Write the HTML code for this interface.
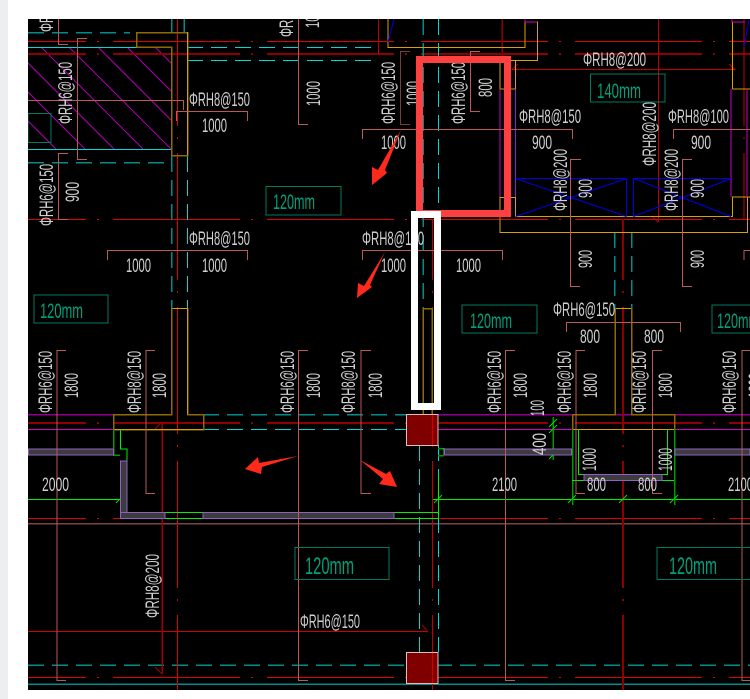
<!DOCTYPE html>
<html><head><meta charset="utf-8"><style>
html,body{margin:0;padding:0;background:#fff;width:750px;height:699px;overflow:hidden}
svg{display:block}
text{font-family:"Liberation Sans",sans-serif;font-size:19px;fill:#cfcfcf;font-weight:400}
text.g{fill:#00a07c;font-size:21px}
.r{stroke:#e00000;stroke-dasharray:127 11 2 14;fill:none}
.dr{stroke:#8c0000;stroke-width:2;stroke-dasharray:127 11 2 14;fill:none}
.sa{stroke:#b85a5a;fill:none}
.sd{stroke:#7c3a3a;fill:none}
.td{stroke:#008c8c;stroke-width:1.5;stroke-dasharray:16 8;fill:none}
.cd{stroke:#00d8d8;stroke-dasharray:16 8;fill:none}
.y{stroke:#d8a000;fill:none}
.yd{stroke:#8f6a00;stroke-width:1.5;fill:none}
.m{stroke:#d000c8;fill:none}
.md{stroke:#900090;stroke-width:1.5;fill:none}
.gr{stroke:#00f000;fill:none}
.gd{stroke:#009a00;stroke-width:1.5;fill:none}
.b{stroke:#0000e0;fill:none}
.bx{stroke:#007a60;stroke-width:1.3;fill:none}
.h{fill:#3c3c3c;stroke:#9060c8;stroke-width:1}
</style></head><body>
<svg width="750" height="699" viewBox="0 0 750 699" xmlns="http://www.w3.org/2000/svg">
<rect width="750" height="699" fill="#fff"/>
<rect x="0" y="0" width="8" height="699" fill="#edeef0"/>
<rect x="28" y="19" width="722" height="671" fill="#000"/>
<defs>
<clipPath id="c"><rect x="28" y="19" width="722" height="671"/></clipPath>
<clipPath id="hc"><rect x="28" y="47" width="143" height="102"/></clipPath>
<clipPath id="low"><rect x="28" y="219" width="722" height="471"/></clipPath>
</defs>
<g clip-path="url(#c)" shape-rendering="crispEdges">
<!-- hatch -->
<g clip-path="url(#hc)" stroke="#b000b0" shape-rendering="auto">
<line x1="155" y1="47" x2="257" y2="149"/><line x1="127" y1="47" x2="229" y2="149"/><line x1="98" y1="47" x2="200" y2="149"/><line x1="69" y1="47" x2="171" y2="149"/><line x1="41" y1="47" x2="143" y2="149"/><line x1="12" y1="47" x2="114" y2="149"/><line x1="-17" y1="47" x2="85" y2="149"/><line x1="-46" y1="47" x2="56" y2="149"/>
</g>
<rect x="28" y="113.5" width="23" height="29" class="bx"/>

<!-- horizontal grid -->
<line x1="28" y1="32.5" x2="130" y2="32.5" class="td"/>
<line x1="-41" y1="41.5" x2="750" y2="41.5" class="r"/>
<line x1="-41" y1="54" x2="750" y2="54" class="dr"/>
<line x1="28" y1="47.5" x2="171" y2="47.5" stroke="#00d8d8"/>
<line x1="187" y1="47.5" x2="375" y2="47.5" class="cd"/>
<line x1="187" y1="60.5" x2="375" y2="60.5" class="cd"/>
<line x1="28" y1="149.5" x2="171" y2="149.5" stroke="#00d8d8"/>
<line x1="28" y1="162.5" x2="171" y2="162.5" class="td"/>
<line x1="-41" y1="219.5" x2="750" y2="219.5" class="r"/>
<line x1="-41" y1="423" x2="750" y2="423" class="dr"/>
<line x1="-41" y1="518.5" x2="750" y2="518.5" class="r"/>
<line x1="-41" y1="677.5" x2="750" y2="677.5" class="r"/>
<line x1="28" y1="523.5" x2="750" y2="523.5" stroke="#7a4444" stroke-width="1.5"/>
<line x1="28" y1="631.5" x2="428" y2="631.5" stroke="#d00000"/>
<path d="M428 631.5L422 625" stroke="#a00000" fill="none" shape-rendering="auto"/>
<line x1="28" y1="665" x2="750" y2="665" class="td"/>
<line x1="28" y1="684" x2="750" y2="684" stroke="#008c8c" stroke-width="1.5"/>
<line x1="28" y1="414.5" x2="113" y2="414.5" class="md"/>
<line x1="438" y1="414.5" x2="750" y2="414.5" class="md"/>
<line x1="28" y1="429.5" x2="113" y2="429.5" class="m"/>
<line x1="438" y1="429.5" x2="750" y2="429.5" class="m"/>
<line x1="203" y1="414.5" x2="406" y2="414.5" class="td"/>
<line x1="203" y1="429.5" x2="406" y2="429.5" class="cd"/>

<!-- vertical grid -->
<line x1="171.5" y1="19" x2="171.5" y2="32" stroke="#008c8c" stroke-width="1.5"/>
<line x1="184" y1="19" x2="184" y2="32" stroke="#008c8c" stroke-width="1.5"/>
<line x1="171.5" y1="156" x2="171.5" y2="308" class="td"/>
<line x1="187.5" y1="156" x2="187.5" y2="308" class="cd"/>
<line x1="177.5" y1="-1" x2="177.5" y2="690" class="r"/>
<line x1="423" y1="19" x2="423" y2="308" class="td"/>
<line x1="438.5" y1="19" x2="438.5" y2="212" class="cd"/>
<line x1="419.5" y1="445" x2="419.5" y2="652" class="cd"/>
<line x1="438.5" y1="445" x2="438.5" y2="652" class="cd"/>
<g clip-path="url(#low)">
<line x1="432.5" y1="-1" x2="432.5" y2="690" stroke="#c00000" stroke-dasharray="127 11 2 14"/>
<line x1="623" y1="-1" x2="623" y2="690" class="dr"/>
</g>
<line x1="614.5" y1="232" x2="614.5" y2="308" class="td"/>
<line x1="631.5" y1="232" x2="631.5" y2="308" class="td"/>
<line x1="378.5" y1="19" x2="378.5" y2="54" stroke="#c00000"/>
<line x1="502" y1="19" x2="502" y2="60" stroke="#8c0000" stroke-width="1.5"/>
<line x1="744" y1="-1" x2="744" y2="219" stroke="#c00000" stroke-dasharray="127 11 2 14"/>
<line x1="658.5" y1="19" x2="658.5" y2="222" stroke="#c00000"/>
<line x1="162" y1="422" x2="162" y2="674" stroke="#a00000" stroke-width="1.5"/>
<path d="M162 422L155 429M162 674L155 667" stroke="#a00000" fill="none" shape-rendering="auto"/>
<path d="M512 69.5H735L729 64M512 69.5L518 64M658 222L652 216" stroke="#c00000" fill="none" shape-rendering="auto"/>

<!-- walls -->
<path d="M136.5 47V32.5H187.5V155.5H171.5V47H136.5" class="yd"/>
<line x1="187.5" y1="32" x2="187.5" y2="155" stroke="#d8a000"/>
<path d="M171.5 308.5H187.5" class="y"/>
<path d="M171.5 308V414.5H113.5V429.5H203.5V414.5H187.5V308" class="yd"/>
<line x1="187.5" y1="308" x2="187.5" y2="414" stroke="#d8a000"/>
<line x1="113" y1="429.5" x2="203" y2="429.5" stroke="#d8a000"/>
<path d="M423 308.5H432V414M423 308V414" class="yd"/>
<path d="M388 19V47.5H525V22H537.5V60.5H416" class="y"/>
<path d="M500 60.5V89H515M515.5 60V216.5H732.5V197H750M500 197.5H515M500 197V232.5H747.5V197" class="y"/>
<path d="M732.5 89V22H745M732.5 89H750" class="y"/>
<path d="M500 89V197M731 89V197M747 89V197" class="m"/>
<path d="M515.5 89V197" stroke="#8a20d0" fill="none"/>
<path d="M525 19V22H537M732 19V22H745" class="m"/>
<path d="M615 308.5H631.5" class="y"/>
<path d="M615 308V414.5H572.5V429.5M631.5 308V414.5H674.5V429.5" class="yd"/>
<line x1="572" y1="429.5" x2="675" y2="429.5" stroke="#d8a000"/>

<!-- green -->
<line x1="28" y1="499.5" x2="127" y2="499.5" class="gr"/>
<line x1="433" y1="499.5" x2="750" y2="499.5" class="gr"/>
<path d="M113.5 429V455H120" class="gd"/>
<path d="M120.5 429V449H127V461H120" class="gr"/>
<path d="M165 512.5H203M165 518.5H203M394 512.5H438.5M394 518.5H438.5M438.5 475V518.5" class="gr"/>
<path d="M438 448.5H444M438 455.5H444" class="gd"/>
<path d="M444 448V455" class="gr"/>
<path d="M572.5 429V505M674.5 429V505" class="gd"/>
<path d="M578.5 429V474.5H584M667.5 429V474.5H652M572 480.5H674" class="gr"/>
<line x1="553" y1="417" x2="553" y2="460" stroke="#009a00" stroke-width="1.5"/>
<g stroke="#00e000" shape-rendering="auto" fill="none">
<path d="M549 427L557 419M549 433L557 425M549 459L557 451M116 503L124 495M434 503L442 495M568 503L576 495M619 503L627 495M670 503L678 495"/>
</g>

<!-- hatched walls -->
<rect x="28.5" y="449" width="85" height="6" class="h"/>
<rect x="444.5" y="449" width="127" height="6" class="h"/>
<rect x="675" y="449" width="75" height="6" class="h"/>
<rect x="120.5" y="461" width="6.5" height="57" class="h"/>
<rect x="120.5" y="512.5" width="44.5" height="6" class="h"/>
<rect x="203" y="512.5" width="191" height="6" class="h"/>
<rect x="584" y="474.5" width="78" height="6" class="h"/>

<!-- blue -->
<path d="M515.5 178.5H626.5V216.5M515.5 216.5L626.5 178.5M515.5 178.5L626.5 216.5M633.5 216.5V178.5H731M633.5 216.5L731 178.5M633.5 178.5L731 216.5M394 19L388 42M749 20L744 47" class="b" shape-rendering="auto"/>

<!-- salmon brackets -->
<path d="M58.5 19V44.5H68" class="sa"/>
<path d="M87 38.5H77.5V159.5H87" class="sa"/>
<path d="M68 153.5H58.5V219.5H68" class="sa"/>
<path d="M298.5 19V124.5H308" class="sa"/>
<path d="M28 100.5H183.5V110" class="sa"/>
<path d="M176.5 121V111.5H247.5V121" class="sa"/>
<path d="M107.5 260V250.5H247.5V260" class="sa"/>
<path d="M362.5 260V250.5H502.5V260" class="sa"/>
<path d="M362.5 139V129.5H572.5V139" class="sa"/>
<path d="M673.5 139V129.5H750" class="sa"/>
<path d="M744 260V250.5H750" class="sa"/>
<path d="M410 51.5H400.5V124.5H410" class="sd"/>
<path d="M480 51.5H470.5V111.5H480" class="sa"/>
<path d="M581 159.5H570.5V286.5H580" class="sa"/>
<path d="M692 159.5H682.5V286.5H692" class="sa"/>
<path d="M566.5 332V322.5H680.5V332" class="sa"/>
<path d="M66 350.5H57V680.5H66" class="sa"/>
<path d="M155 350.5H146V493.5H155" class="sa"/>
<path d="M308 350.5H298.5V680.5H308" class="sa"/>
<path d="M371 350.5H361V493.5H371" class="sa"/>
<path d="M515 350.5H505.5V680.5H515" class="sa"/>
<path d="M585 350.5H576V493.5H585" class="sa"/>
<path d="M662 350.5H652.5V493.5H662" class="sa"/>
<path d="M750 350.5H742V680.5H750" class="sa"/>

<!-- label boxes -->
<rect x="266" y="186.5" width="75" height="28.5" class="bx"/>
<rect x="34" y="295" width="74" height="28" class="bx"/>
<rect x="462" y="305" width="75" height="28" class="bx"/>
<rect x="712" y="305" width="60" height="28" class="bx"/>
<rect x="590.5" y="74" width="74.5" height="28" class="bx"/>
<rect x="295" y="547.5" width="94" height="32" class="bx"/>
<rect x="657" y="547.5" width="120" height="32" class="bx"/>

<!-- columns -->
<rect x="406.5" y="414.5" width="31.5" height="31" fill="#800000" stroke="#d8c0c0"/>
<rect x="406.5" y="652.5" width="31.5" height="31" fill="#800000" stroke="#d8c0c0"/>
<line x1="432.5" y1="415" x2="432.5" y2="445" stroke="#d00000"/>
<line x1="432.5" y1="653" x2="432.5" y2="683" stroke="#d00000"/>
</g>

<!-- text -->
<g clip-path="url(#c)">
<text x="189" y="106" textLength="61" lengthAdjust="spacingAndGlyphs">ΦRH8@150</text>
<text x="202" y="132" textLength="25" lengthAdjust="spacingAndGlyphs">1000</text>
<text x="189" y="245" textLength="61" lengthAdjust="spacingAndGlyphs">ΦRH8@150</text>
<text x="126" y="272" textLength="25" lengthAdjust="spacingAndGlyphs">1000</text>
<text x="202" y="272" textLength="25" lengthAdjust="spacingAndGlyphs">1000</text>
<text x="362" y="245" textLength="62" lengthAdjust="spacingAndGlyphs">ΦRH8@100</text>
<text x="381" y="272" textLength="25" lengthAdjust="spacingAndGlyphs">1000</text>
<text x="456" y="272" textLength="25" lengthAdjust="spacingAndGlyphs">1000</text>
<text x="381" y="149" textLength="25" lengthAdjust="spacingAndGlyphs">1000</text>
<text x="583" y="66" textLength="63" lengthAdjust="spacingAndGlyphs">ΦRH8@200</text>
<text x="519" y="123" textLength="62" lengthAdjust="spacingAndGlyphs">ΦRH8@150</text>
<text x="532" y="149" textLength="20" lengthAdjust="spacingAndGlyphs">900</text>
<text x="668" y="123" textLength="61" lengthAdjust="spacingAndGlyphs">ΦRH8@100</text>
<text x="691" y="149" textLength="20" lengthAdjust="spacingAndGlyphs">900</text>
<text x="553" y="316" textLength="62" lengthAdjust="spacingAndGlyphs">ΦRH6@150</text>
<text x="580" y="343" textLength="20" lengthAdjust="spacingAndGlyphs">800</text>
<text x="644" y="343" textLength="20" lengthAdjust="spacingAndGlyphs">800</text>
<text x="42" y="491" textLength="27" lengthAdjust="spacingAndGlyphs">2000</text>
<text x="492" y="491" textLength="25" lengthAdjust="spacingAndGlyphs">2100</text>
<text x="728" y="491" textLength="25" lengthAdjust="spacingAndGlyphs">2100</text>
<text x="587" y="491" textLength="19" lengthAdjust="spacingAndGlyphs">800</text>
<text x="638" y="491" textLength="19" lengthAdjust="spacingAndGlyphs">800</text>
<text x="300" y="628" textLength="60" lengthAdjust="spacingAndGlyphs">ΦRH6@150</text>

<text class="g" x="597" y="98" textLength="44" lengthAdjust="spacingAndGlyphs">140mm</text>
<text class="g" x="273" y="209" textLength="42" lengthAdjust="spacingAndGlyphs">120mm</text>
<text class="g" x="40" y="318" textLength="43" lengthAdjust="spacingAndGlyphs">120mm</text>
<text class="g" x="470" y="328" textLength="42" lengthAdjust="spacingAndGlyphs">120mm</text>
<text class="g" x="717" y="328" textLength="42" lengthAdjust="spacingAndGlyphs">120mm</text>
<text class="g" x="305" y="574" textLength="49" lengthAdjust="spacingAndGlyphs" style="font-size:24px">120mm</text>
<text class="g" x="669" y="574" textLength="48" lengthAdjust="spacingAndGlyphs" style="font-size:24px">120mm</text>

<text transform="translate(53,32) rotate(-90)" textLength="62" lengthAdjust="spacingAndGlyphs">ΦRH6@150</text>
<text transform="translate(72,124) rotate(-90)" textLength="62" lengthAdjust="spacingAndGlyphs">ΦRH6@150</text>
<text transform="translate(53,226) rotate(-90)" textLength="62" lengthAdjust="spacingAndGlyphs">ΦRH6@150</text>
<text transform="translate(79,202) rotate(-90)" textLength="20" lengthAdjust="spacingAndGlyphs">900</text>
<text transform="translate(293,37) rotate(-90)" textLength="62" lengthAdjust="spacingAndGlyphs">ΦRH6@150</text>
<text transform="translate(319,28) rotate(-90)" textLength="25" lengthAdjust="spacingAndGlyphs">1000</text>
<text transform="translate(320,106) rotate(-90)" textLength="25" lengthAdjust="spacingAndGlyphs">1000</text>
<text transform="translate(395,124) rotate(-90)" textLength="62" lengthAdjust="spacingAndGlyphs">ΦRH6@150</text>
<text transform="translate(420,106) rotate(-90)" textLength="25" lengthAdjust="spacingAndGlyphs">1000</text>
<text transform="translate(465,124) rotate(-90)" textLength="62" lengthAdjust="spacingAndGlyphs">ΦRH6@150</text>
<text transform="translate(492,97) rotate(-90)" textLength="19" lengthAdjust="spacingAndGlyphs">800</text>
<text transform="translate(656,166) rotate(-90)" textLength="64" lengthAdjust="spacingAndGlyphs">ΦRH8@200</text>
<text transform="translate(567,211) rotate(-90)" textLength="62" lengthAdjust="spacingAndGlyphs">ΦRH8@200</text>
<text transform="translate(592,198) rotate(-90)" textLength="19" lengthAdjust="spacingAndGlyphs">900</text>
<text transform="translate(678,211) rotate(-90)" textLength="62" lengthAdjust="spacingAndGlyphs">ΦRH8@200</text>
<text transform="translate(704,198) rotate(-90)" textLength="19" lengthAdjust="spacingAndGlyphs">900</text>
<text transform="translate(592,268) rotate(-90)" textLength="18" lengthAdjust="spacingAndGlyphs">900</text>
<text transform="translate(704,268) rotate(-90)" textLength="18" lengthAdjust="spacingAndGlyphs">900</text>
<text transform="translate(52,413) rotate(-90)" textLength="62" lengthAdjust="spacingAndGlyphs">ΦRH6@150</text>
<text transform="translate(78,398) rotate(-90)" textLength="25" lengthAdjust="spacingAndGlyphs">1800</text>
<text transform="translate(141,413) rotate(-90)" textLength="62" lengthAdjust="spacingAndGlyphs">ΦRH8@150</text>
<text transform="translate(166,398) rotate(-90)" textLength="25" lengthAdjust="spacingAndGlyphs">1800</text>
<text transform="translate(294,413) rotate(-90)" textLength="62" lengthAdjust="spacingAndGlyphs">ΦRH6@150</text>
<text transform="translate(320,398) rotate(-90)" textLength="25" lengthAdjust="spacingAndGlyphs">1800</text>
<text transform="translate(355,413) rotate(-90)" textLength="62" lengthAdjust="spacingAndGlyphs">ΦRH8@150</text>
<text transform="translate(382,398) rotate(-90)" textLength="25" lengthAdjust="spacingAndGlyphs">1800</text>
<text transform="translate(501,413) rotate(-90)" textLength="62" lengthAdjust="spacingAndGlyphs">ΦRH6@150</text>
<text transform="translate(527,398) rotate(-90)" textLength="25" lengthAdjust="spacingAndGlyphs">1800</text>
<text transform="translate(571,413) rotate(-90)" textLength="62" lengthAdjust="spacingAndGlyphs">ΦRH6@150</text>
<text transform="translate(597,398) rotate(-90)" textLength="25" lengthAdjust="spacingAndGlyphs">1800</text>
<text transform="translate(646,413) rotate(-90)" textLength="62" lengthAdjust="spacingAndGlyphs">ΦRH6@150</text>
<text transform="translate(672,398) rotate(-90)" textLength="25" lengthAdjust="spacingAndGlyphs">1800</text>
<text transform="translate(736,413) rotate(-90)" textLength="62" lengthAdjust="spacingAndGlyphs">ΦRH6@150</text>
<text transform="translate(762,398) rotate(-90)" textLength="25" lengthAdjust="spacingAndGlyphs">1800</text>
<text transform="translate(544,416) rotate(-90)" textLength="16" lengthAdjust="spacingAndGlyphs">100</text>
<text transform="translate(546,455) rotate(-90)" textLength="22" lengthAdjust="spacingAndGlyphs">400</text>
<text transform="translate(596,471) rotate(-90)" textLength="23" lengthAdjust="spacingAndGlyphs">1000</text>
<text transform="translate(672,471) rotate(-90)" textLength="23" lengthAdjust="spacingAndGlyphs">1000</text>
<text transform="translate(159,618) rotate(-90)" textLength="64" lengthAdjust="spacingAndGlyphs">ΦRH8@200</text>
</g>

<!-- red arrows -->
<g fill="#ff2a1c">
<polygon points="401,130 385,170 387,173 372,185 372,167 378,170"/>
<polygon points="385,252 370,285 372,287 357,298 358,283 364,286"/>
<polygon points="298,456 262,467 261,474 245,469 258,457 259,463"/>
<polygon points="360,460 386,474 390,471 397,487 379,484 383,479"/>
</g>

<!-- highlight rectangles -->
<rect x="419.5" y="59.5" width="88" height="154" fill="none" stroke="#ff4040" stroke-width="7"/>
<rect x="414.5" y="214.5" width="23" height="192" fill="none" stroke="#fff" stroke-width="7"/>
</svg>
</body></html>
